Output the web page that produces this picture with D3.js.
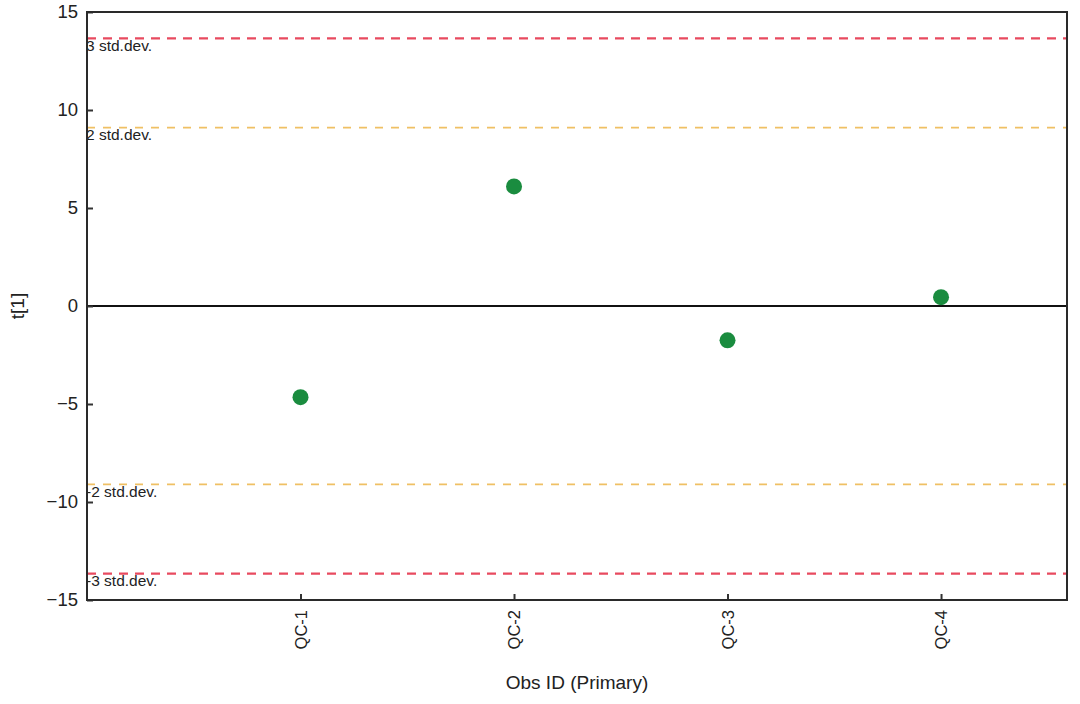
<!DOCTYPE html>
<html><head><meta charset="utf-8">
<script src="https://cdn.jsdelivr.net/npm/d3@7"></script>
<style>body{margin:0;background:#fff;}svg{display:block;font-family:"Liberation Sans",Arial,sans-serif;}</style>
</head><body>
<svg id="c" width="1080" height="704"></svg>
<script>
const categories = ["QC-1","QC-2","QC-3","QC-4"];
const values = [-4.65, 6.1, -1.75, 0.45];
const yTicks = [-15,-10,-5,0,5,10,15];
const limitValues = [13.65, 9.1, -9.1, -13.65];
const limitLabels = ["3 std.dev.","2 std.dev.","-2 std.dev.","-3 std.dev."];
const limitKinds = ["3","2","2","3"];

const svg = d3.select("#c");
const L=87, R=1067, T=12, B=600;
const x = d3.scaleLinear().domain([0, 4.59]).range([L, R]);
const y = d3.scaleLinear().domain([-15, 15]).range([B, T]);

// limit lines
const colors = {"3":"#e84a5f","2":"#efc064"};
limitValues.forEach((v,i)=>{
  const k = limitKinds[i];
  svg.append("line").attr("x1",L).attr("x2",R).attr("y1",y(v)).attr("y2",y(v))
    .attr("stroke",colors[k]).attr("stroke-width",k==="3"?2.2:1.6)
    .attr("stroke-dasharray",k==="3"?"9,7":"8,8");
  svg.append("text").attr("x",L-1).attr("y",y(v)+12.5).attr("font-size",15.5)
    .attr("fill","#222").text(limitLabels[i]);
});

// zero line
svg.append("line").attr("x1",L).attr("x2",R).attr("y1",y(0)).attr("y2",y(0))
  .attr("stroke","#111").attr("stroke-width",2);

// axes
const yAxis = d3.axisLeft(y).tickValues(yTicks).tickSize(-6).tickPadding(9).tickFormat(d3.format("d"));
const gy = svg.append("g").attr("transform",`translate(${L},0)`).call(yAxis);
gy.select(".domain").remove();
gy.selectAll("line").attr("stroke","#333").attr("stroke-width",2);
gy.selectAll("text").attr("font-size",18.5).attr("fill","#222").attr("font-family","Liberation Sans, Arial, sans-serif");

const xAxis = d3.axisBottom(x).tickValues([1,2,3,4]).tickSize(-6).tickFormat(d=>categories[d-1]);
const gx = svg.append("g").attr("transform",`translate(0,${B})`).call(xAxis);
gx.select(".domain").remove();
gx.selectAll("line").attr("stroke","#333").attr("stroke-width",2);
gx.selectAll("text").attr("font-size",16.5).attr("fill","#222").attr("font-family","Liberation Sans, Arial, sans-serif")
  .attr("transform","rotate(-90)").attr("text-anchor","end").attr("x",-10).attr("y",0).attr("dy","0.35em");

// frame
svg.append("rect").attr("x",L).attr("y",T).attr("width",R-L).attr("height",B-T)
  .attr("fill","none").attr("stroke","#2a2a2a").attr("stroke-width",2);

// points
svg.selectAll("circle.pt").data(values).enter().append("circle").attr("class","pt")
  .attr("cx",(d,i)=>x(i+1)).attr("cy",d=>y(d)).attr("r",8).attr("fill","#1a8c3f");

// titles
svg.append("text").attr("x",577).attr("y",689).attr("text-anchor","middle").attr("font-size",19).attr("fill","#222").text("Obs ID (Primary)");
svg.append("text").attr("transform",`translate(24,306) rotate(-90)`).attr("text-anchor","middle").attr("font-size",19).attr("fill","#222").text("t[1]");
</script>
</body></html>
